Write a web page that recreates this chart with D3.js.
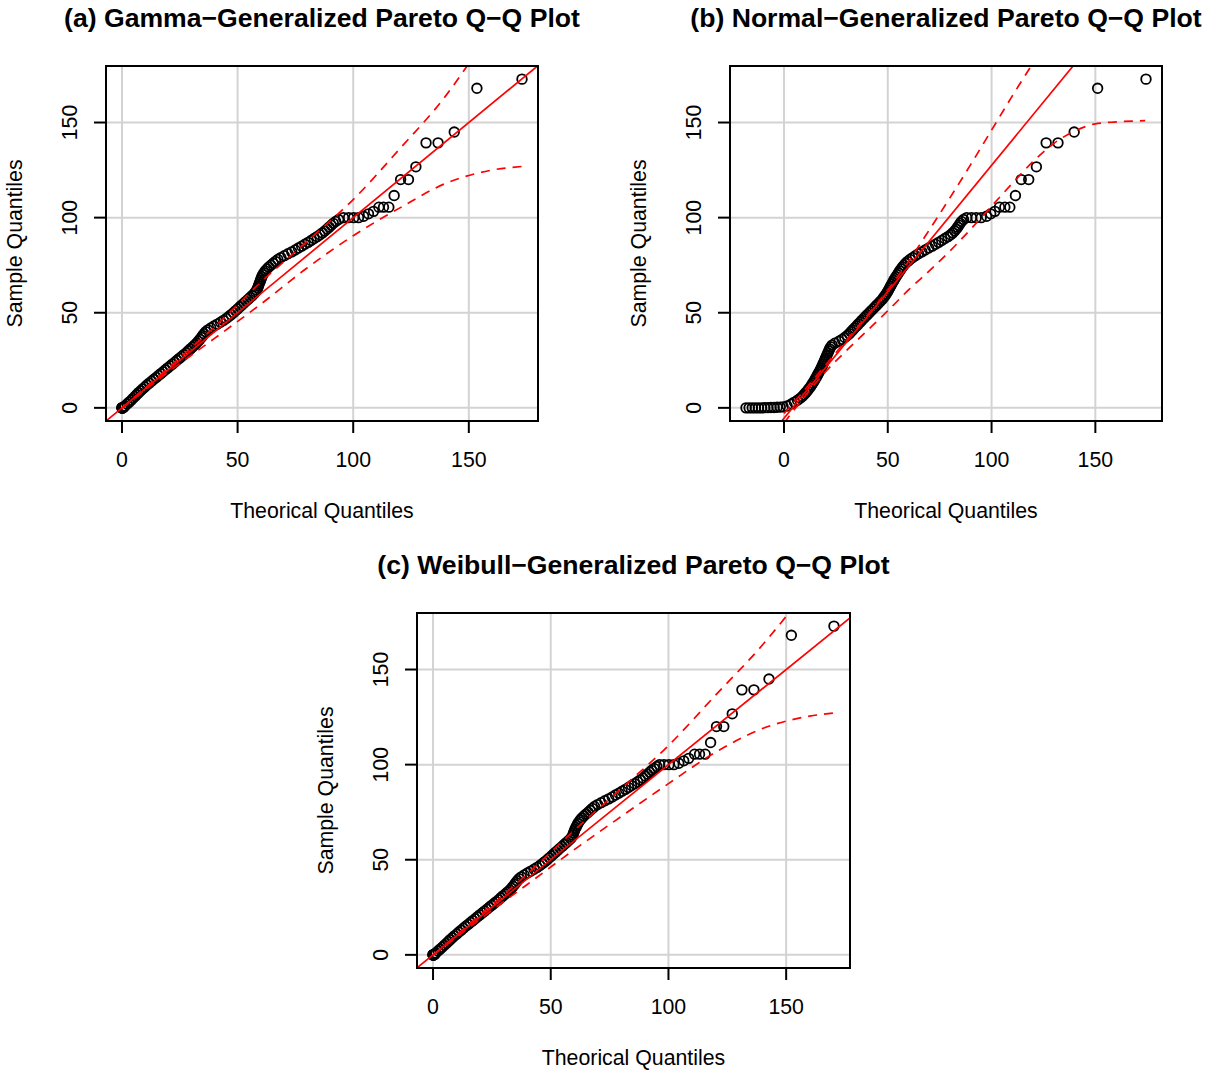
<!DOCTYPE html>
<html>
<head>
<meta charset="utf-8">
<script src="https://cdn.jsdelivr.net/npm/d3@7"></script>
<style>
  body { margin: 0; background: #fff; }
  svg { font-family: "Liberation Sans", Arial, Helvetica, sans-serif; }
</style>
</head>
<body>
<script>
// sorted sample quantiles, shared by the three plots
var sampleQ = [
  0, 0, 0, 0, 0, 0, 0.1, 0.1, 0.2, 0.2, 0.3, 0.4, 0.5,
  1, 2, 3, 4, 5, 6, 7, 8, 9, 10,
  11, 12, 13, 14, 15, 16, 17, 18, 19, 20,
  21, 22, 23, 24, 25, 26, 27, 28, 29, 30,
  31, 32, 33, 34, 35, 36, 37, 38, 39, 40,
  41, 42, 43, 44, 45, 46, 47, 48, 49, 50,
  51, 52, 53, 54, 55, 56, 57, 58, 59, 60,
  61, 62, 63, 64, 65, 66, 67, 68, 69, 70,
  71, 72, 73, 74, 75, 76, 77, 78, 79, 80,
  81, 82, 83, 84, 85, 86, 87, 88, 89, 90,
  91, 92, 93, 94, 95, 96, 97, 98, 99,
  100, 100, 100, 100,
  100.7, 102, 103.3, 105.5, 105.5, 105.5, 111.6, 120, 120, 126.7, 139.3, 139.3, 145, 168, 172.8
];

// theoretical quantiles, gamma-GPD
var gammaQ = [
  0, 0, 0.1, 0.1, 0.2, 0.2, 0.3, 0.3, 0.4, 0.5, 0.6, 0.7, 0.8,
  1.3, 2.2, 3.1, 4, 4.8, 5.6, 6.4, 7.2, 8.1, 9,
  9.9, 10.8, 11.8, 12.8, 13.8, 14.8, 15.8, 16.8, 17.8, 18.8,
  19.8, 20.8, 21.8, 22.8, 23.8, 24.8, 25.8, 26.8, 27.8, 28.7,
  29.6, 30.5, 31.4, 32.2, 33, 33.7, 34.3, 34.9, 35.5, 36.2,
  37.2, 38.4, 39.8, 41.2, 42.6, 43.9, 45.1, 46.2, 47.2, 48.2,
  49.1, 50, 50.9, 51.8, 52.7, 53.6, 54.5, 55.4, 56.3, 57.1,
  57.8, 58.3, 58.7, 59, 59.3, 59.6, 59.9, 60.2, 60.5, 60.9,
  61.4, 62, 62.7, 63.5, 64.4, 65.4, 66.4, 67.4, 68.7, 70.2,
  71.8, 73.4, 74.9, 76.3, 77.7, 79.1, 80.5, 81.8, 83.1, 84.4,
  85.6, 86.7, 87.7, 88.7, 89.6, 90.5, 91.4, 92.4, 93.7,
  95.8, 98, 100.2, 102.3,
  104.5, 106.6, 108.8, 111.1, 113.1, 115.4, 117.7, 120.5, 123.9, 127.1, 131.5, 136.7, 143.7, 153.5, 173
];

// theoretical quantiles, normal-GPD
var normalQ = [
  -18.3, -16.8, -15.3, -13.8, -12.3, -10.8, -9.3, -7.8, -6.3, -4.8, -3.3, -1.8, -0.4,
  1.5, 3.5, 5, 6.5, 7.8, 8.8, 9.7, 10.5, 11.3, 12,
  12.7, 13.3, 13.9, 14.5, 15, 15.5, 16, 16.5, 17, 17.5,
  18, 18.4, 18.8, 19.2, 19.6, 20, 20.4, 20.8, 21.2, 21.6,
  22, 22.5, 23.2, 24.5, 26.5, 28, 29.3, 30.5, 31.5, 32.3,
  33.2, 34, 35, 35.8, 36.7, 37.5, 38.4, 39.3, 40.2, 41.1,
  42, 42.9, 43.8, 44.7, 45.6, 46.5, 47.3, 48, 48.7, 49.3,
  49.9, 50.4, 50.9, 51.4, 51.9, 52.4, 52.9, 53.4, 54, 54.6,
  55.2, 55.8, 56.4, 57.1, 57.8, 58.6, 59.6, 60.7, 62, 63.3,
  64.8, 66.4, 68, 69.7, 71.4, 73, 74.5, 76, 77.5, 79,
  80.3, 81.3, 82.2, 83, 83.7, 84.3, 84.9, 85.5, 86.5,
  88, 90.3, 92.6, 95,
  97.6, 99.6, 101.6, 103.8, 106.4, 108.8, 111.5, 114.3, 117.9, 121.6, 126.3, 132, 139.8, 151.1, 174.4
];

// theoretical quantiles, weibull-GPD
var weibullQ = [
  0, 0, 0.1, 0.1, 0.2, 0.2, 0.3, 0.3, 0.4, 0.5, 0.6, 0.7, 0.8,
  1.2, 2.1, 3, 3.9, 4.8, 5.6, 6.5, 7.3, 8.2, 9.1,
  10.1, 11, 12, 12.9, 13.9, 14.9, 15.9, 16.9, 17.9, 18.9,
  19.9, 20.9, 21.9, 22.9, 23.9, 24.9, 25.9, 26.9, 27.9, 28.8,
  29.7, 30.7, 31.6, 32.5, 33.3, 34, 34.6, 35.2, 35.8, 36.5,
  37.5, 38.7, 40.1, 41.5, 42.9, 44.2, 45.4, 46.5, 47.5, 48.5,
  49.4, 50.3, 51.2, 52.1, 53, 53.9, 54.8, 55.7, 56.6, 57.5,
  58.4, 59, 59.4, 59.7, 60, 60.3, 60.7, 61.1, 61.5, 62,
  62.6, 63.3, 64.1, 65, 65.9, 66.8, 67.7, 68.6, 69.9, 71.4,
  73, 74.6, 76.1, 77.5, 78.9, 80.3, 81.7, 83, 84.3, 85.6,
  86.9, 88.1, 89.2, 90.2, 91.1, 92, 92.9, 93.9, 95.1,
  96.2, 98.1, 100.2, 102.3,
  104.4, 106.5, 108.6, 111.1, 113.2, 115.6, 117.9, 120.4, 123.5, 127.1, 131.2, 136.3, 142.7, 152.2, 170.3
];

// reference lines: [intercept, slope]
var gammaLine = [0, 1];
var normalLine = [-5.5, 1.33];
var weibullLine = [0, 1];

// confidence envelopes (upper / lower)
var gammaUpX = [0, 20, 40, 60, 80, 100, 120, 140, 150];
var gammaUpY = [0, 21, 42.5, 66, 87.5, 109.5, 136, 164, 181];
var gammaLoX = [0, 20, 40, 60, 80, 100, 120, 140, 160, 174];
var gammaLoY = [-0.3, 18.8, 36.5, 54.5, 73.5, 90.5, 105, 118, 125, 127];

var normalUpX = [0, 10, 20, 30, 40, 50, 60, 70, 80, 90, 100, 110, 121];
var normalUpY = [-3, 9.5, 22.5, 35.5, 48.5, 62, 77, 93.5, 110.5, 128, 146, 164, 183];
var normalLoX = [0, 10, 20, 30, 40, 50, 60, 70, 80, 90, 100, 110, 120, 130, 140, 150, 160, 174];
var normalLoY = [-8, 6, 19, 30, 40.5, 51, 62, 72, 82.5, 94, 106, 118, 129.5, 139, 145.5, 149.3, 150.3, 151];

var weibullUpX = [0, 20, 40, 60, 80, 100, 120, 140, 152];
var weibullUpY = [0, 21, 42.5, 65.5, 87.5, 110, 136.5, 163, 181];
var weibullLoX = [0, 20, 40, 60, 80, 100, 120, 140, 160, 172];
var weibullLoY = [-0.3, 18.8, 37, 55.3, 72.8, 90, 106.5, 119, 125.5, 127.3];

var xTicks = [0, 50, 100, 150];
var yTicks = [0, 50, 100, 150];

var width = 1217, height = 1072;

var svg = d3.select("body").append("svg")
    .attr("width", width)
    .attr("height", height);

var panels = [
  { id: "a", title: "(a) Gamma\u2212Generalized Pareto Q\u2212Q Plot",
    x0: 106, y0: 66, x1: 538, y1: 421,
    theo: gammaQ, line: gammaLine,
    upX: gammaUpX, upY: gammaUpY, loX: gammaLoX, loY: gammaLoY },
  { id: "b", title: "(b) Normal\u2212Generalized Pareto Q\u2212Q Plot",
    x0: 730, y0: 66, x1: 1162, y1: 421,
    theo: normalQ, line: normalLine,
    upX: normalUpX, upY: normalUpY, loX: normalLoX, loY: normalLoY },
  { id: "c", title: "(c) Weibull\u2212Generalized Pareto Q\u2212Q Plot",
    x0: 417, y0: 613, x1: 850, y1: 968,
    theo: weibullQ, line: weibullLine,
    upX: weibullUpX, upY: weibullUpY, loX: weibullLoX, loY: weibullLoY }
];

// R style axis range: data range stretched by 4% on each side
function padded(ext) {
  var r = ext[1] - ext[0];
  return [ext[0] - 0.04 * r, ext[1] + 0.04 * r];
}

panels.forEach(function (p) {
  var xScale = d3.scaleLinear().domain(padded(d3.extent(p.theo))).range([p.x0, p.x1]);
  var yScale = d3.scaleLinear().domain(padded(d3.extent(sampleQ))).range([p.y1, p.y0]);

  var g = svg.append("g").attr("class", "panel-" + p.id);

  g.append("clipPath").attr("id", "clip-" + p.id)
    .append("rect")
    .attr("x", p.x0).attr("y", p.y0)
    .attr("width", p.x1 - p.x0).attr("height", p.y1 - p.y0);

  // grid
  g.selectAll(".vgrid").data(xTicks).enter().append("line")
    .attr("x1", function (d) { return xScale(d); })
    .attr("x2", function (d) { return xScale(d); })
    .attr("y1", p.y0).attr("y2", p.y1)
    .attr("stroke", "#d3d3d3").attr("stroke-width", 2);
  g.selectAll(".hgrid").data(yTicks).enter().append("line")
    .attr("y1", function (d) { return yScale(d); })
    .attr("y2", function (d) { return yScale(d); })
    .attr("x1", p.x0).attr("x2", p.x1)
    .attr("stroke", "#d3d3d3").attr("stroke-width", 2);

  // points
  var pts = sampleQ.map(function (s, i) { return [p.theo[i], s]; });
  g.append("g").attr("clip-path", "url(#clip-" + p.id + ")")
    .selectAll("circle").data(pts).enter().append("circle")
    .attr("cx", function (d) { return xScale(d[0]); })
    .attr("cy", function (d) { return yScale(d[1]); })
    .attr("r", 4.8)
    .attr("fill", "none")
    .attr("stroke", "black")
    .attr("stroke-width", 1.8);

  var red = g.append("g").attr("clip-path", "url(#clip-" + p.id + ")");

  // fitted line across the whole plot
  var dom = xScale.domain();
  red.append("line")
    .attr("x1", xScale(dom[0])).attr("y1", yScale(p.line[0] + p.line[1] * dom[0]))
    .attr("x2", xScale(dom[1])).attr("y2", yScale(p.line[0] + p.line[1] * dom[1]))
    .attr("stroke", "red").attr("stroke-width", 1.7);

  // envelopes
  var env = d3.line()
    .x(function (d) { return xScale(d[0]); })
    .y(function (d) { return yScale(d[1]); })
    .curve(d3.curveMonotoneX);
  [[p.upX, p.upY], [p.loX, p.loY]].forEach(function (e) {
    red.append("path")
      .attr("d", env(e[0].map(function (x, i) { return [x, e[1][i]]; })))
      .attr("fill", "none")
      .attr("stroke", "red")
      .attr("stroke-width", 1.7)
      .attr("stroke-dasharray", "9,7");
  });

  // box
  g.append("rect")
    .attr("x", p.x0).attr("y", p.y0)
    .attr("width", p.x1 - p.x0).attr("height", p.y1 - p.y0)
    .attr("fill", "none").attr("stroke", "black").attr("stroke-width", 2);

  // x axis ticks and labels
  g.selectAll(".xtick").data(xTicks).enter().append("line")
    .attr("x1", function (d) { return xScale(d); })
    .attr("x2", function (d) { return xScale(d); })
    .attr("y1", p.y1).attr("y2", p.y1 + 12)
    .attr("stroke", "black").attr("stroke-width", 2);
  g.selectAll(".xlab").data(xTicks).enter().append("text")
    .attr("x", function (d) { return xScale(d); })
    .attr("y", p.y1 + 46)
    .attr("text-anchor", "middle")
    .style("font-size", "21.3px")
    .text(function (d) { return d; });

  // y axis ticks and labels
  g.selectAll(".ytick").data(yTicks).enter().append("line")
    .attr("y1", function (d) { return yScale(d); })
    .attr("y2", function (d) { return yScale(d); })
    .attr("x1", p.x0).attr("x2", p.x0 - 12)
    .attr("stroke", "black").attr("stroke-width", 2);
  g.selectAll(".ylab").data(yTicks).enter().append("text")
    .attr("transform", function (d) {
      return "translate(" + (p.x0 - 29.5) + "," + yScale(d) + ") rotate(-90)";
    })
    .attr("text-anchor", "middle")
    .style("font-size", "21.3px")
    .text(function (d) { return d; });

  // titles
  var cx = (p.x0 + p.x1) / 2, cy = (p.y0 + p.y1) / 2;
  g.append("text")
    .attr("x", cx).attr("y", p.y0 - 39)
    .attr("text-anchor", "middle")
    .style("font-size", "26.6px")
    .style("font-weight", "bold")
    .text(p.title);
  g.append("text")
    .attr("x", cx).attr("y", p.y1 + 97)
    .attr("text-anchor", "middle")
    .style("font-size", "21.3px")
    .text("Theorical Quantiles");
  g.append("text")
    .attr("transform", "translate(" + (p.x0 - 84) + "," + cy + ") rotate(-90)")
    .attr("text-anchor", "middle")
    .style("font-size", "21.3px")
    .text("Sample Quantiles");
});
</script>
</body>
</html>
